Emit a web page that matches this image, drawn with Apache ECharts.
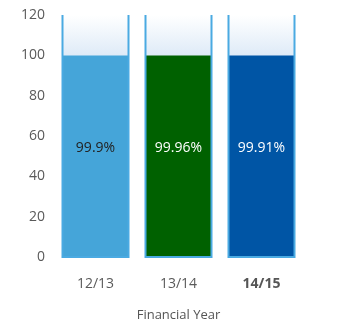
<!DOCTYPE html>
<html>
<head>
<meta charset="utf-8">
<title>Financial Year</title>
<script src="https://cdn.jsdelivr.net/npm/echarts@6/dist/echarts.min.js"></script>
<style>
  html, body { margin: 0; padding: 0; background: #fff; }
  #chart { width: 354px; height: 333px; }
</style>
</head>
<body>
<div id="chart"></div>
<script>
// Financial years and percentage results
const categories = ['12/13', '13/14', '14/15'];
const values = [99.9, 99.96, 99.91];
const labels = ['99.9%', '99.96%', '99.91%'];
const barColors = ['#45a5d9', '#006100', '#0055a5'];
const labelColors = ['#222222', '#ffffff', '#ffffff'];
const yTicks = [0, 20, 40, 60, 80, 100, 120];
const yMax = 120;

const FONT = '"Open Sans", "Noto Sans", sans-serif';
const BORDER = '#4aaae2';
const BAR_W = 66;

const chart = echarts.init(document.getElementById('chart'), null, { renderer: 'canvas' });

chart.setOption({
  animation: false,
  grid: { left: 54, right: 51, top: 15, bottom: 76 },
  xAxis: {
    type: 'category',
    data: categories,
    axisLine: { show: false },
    axisTick: { show: false },
    axisLabel: {
      interval: 0,
      hideOverlap: false,
      margin: 20,
      fontFamily: FONT,
      fontSize: 14,
      color: '#5a5a5a',
      formatter: function (v, i) {
        return i === categories.length - 1 ? '{b|' + v + '}' : v;
      },
      rich: { b: { fontWeight: 'bold', fontFamily: FONT, fontSize: 14, color: '#555' } }
    },
    name: 'Financial Year',
    nameLocation: 'middle',
    nameGap: 52,
    nameTextStyle: { fontFamily: FONT, fontSize: 13, color: '#555' }
  },
  yAxis: {
    type: 'value',
    min: 0,
    max: yMax,
    interval: 20,
    axisLine: { show: false },
    axisTick: { show: false },
    splitLine: { show: false },
    axisLabel: {
      margin: 9,
      fontFamily: FONT,
      fontSize: 14,
      color: '#5a5a5a',
      customValues: yTicks
    }
  },
  series: [
    {
      // container fill behind each bar
      type: 'bar',
      barWidth: BAR_W,
      barGap: '-100%',
      silent: true,
      z: 1,
      data: categories.map(() => yMax),
      itemStyle: {
        color: new echarts.graphic.LinearGradient(0, 0, 0, 1, [
          { offset: 0, color: '#ffffff' },
          { offset: 0.18, color: '#dce9f7' },
          { offset: 1, color: '#dce9f7' }
        ])
      }
    },
    {
      type: 'bar',
      barWidth: BAR_W,
      barGap: '-100%',
      z: 2,
      data: values.map((v, i) => ({
        value: v,
        itemStyle: { color: barColors[i] },
        label: { color: labelColors[i], formatter: labels[i] }
      })),
      label: {
        show: true,
        position: ['50%', '46%'],
        align: 'center',
        verticalAlign: 'middle',
        fontFamily: FONT,
        fontSize: 14
      }
    },
    {
      // container outline: open top, blue sides and bottom
      type: 'custom',
      silent: true,
      z: 3,
      data: categories.map((c, i) => [i, yMax]),
      renderItem: function (params, api) {
        const top = api.coord([api.value(0), api.value(1)]);
        const base = api.coord([api.value(0), 0]);
        const x0 = top[0] - BAR_W / 2;
        const x1 = top[0] + BAR_W / 2;
        return {
          type: 'polyline',
          shape: { points: [[x0, top[1]], [x0, base[1]], [x1, base[1]], [x1, top[1]]] },
          style: { stroke: BORDER, lineWidth: 2, fill: null }
        };
      }
    }
  ]
});
</script>
</body>
</html>
